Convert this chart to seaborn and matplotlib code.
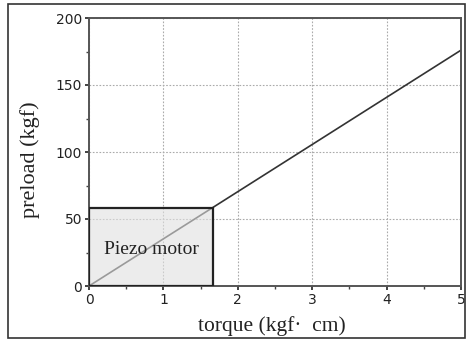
import matplotlib
matplotlib.use("Agg")
import matplotlib.pyplot as plt
import seaborn as sns
import pandas as pd
from matplotlib.patches import Rectangle
from matplotlib.ticker import MultipleLocator

torque = [0.0, 5.0]
preload = [0.0, 176.0]
piezo_torque = 1.67
piezo_preload = 58.0
piezo_label = "Piezo motor"
x_ticks = [0, 1, 2, 3, 4, 5]
y_ticks = [0, 50, 100, 150, 200]

sns.set_theme(style="white")
plt.rcParams["font.family"] = ["DejaVu Sans"]

df = pd.DataFrame({"torque": torque, "preload": preload})

fig = plt.figure(figsize=(4.68, 3.42), dpi=100)
ax = fig.add_axes([89/468, 1-286/342, (461-89)/468, (286-18)/342])

sns.lineplot(data=df, x="torque", y="preload", ax=ax, color="#333333", lw=1.2, zorder=2)
ax.add_patch(Rectangle((0, 0), piezo_torque, piezo_preload, facecolor="#e0e0e0", alpha=0.6,
                       edgecolor="none", zorder=3))
ax.add_patch(Rectangle((0, 0), piezo_torque, piezo_preload, facecolor="none",
                       edgecolor="#222222", lw=1.6, zorder=4))
ax.text(piezo_torque/2, piezo_preload/2 - 2, piezo_label, ha="center", va="center",
        family="Liberation Serif", fontsize=14, color="#222222", zorder=5)

ax.set_xlim(0, 5)
ax.set_ylim(0, 200)
ax.set_xticks(x_ticks)
ax.set_yticks(y_ticks)
ax.xaxis.set_minor_locator(MultipleLocator(0.5))
ax.yaxis.set_minor_locator(MultipleLocator(25))
ax.tick_params(axis="both", which="major", direction="out", length=3, width=1.2,
               labelsize=10, colors="#222222", pad=2, bottom=True, left=True)
ax.tick_params(axis="both", which="minor", direction="out", length=2, width=1,
               colors="#444444", bottom=True, left=True)
ax.grid(True, which="major", color="#aaaaaa", linestyle=(0, (1.5, 1.5)), lw=0.8)
for s in ax.spines.values():
    s.set_color("#555555")
    s.set_linewidth(1.4)
ax.set_xlabel("torque (kgf·  cm)", family="Liberation Serif", fontsize=15.5, color="#222222")
ax.set_ylabel("preload (kgf)", family="Liberation Serif", fontsize=16, color="#222222")
ax.xaxis.set_label_coords((272 - 89) / 372, -(316 - 286) / 268)
ax.yaxis.set_label_coords(-(89 - 40) / 372, (286 - 160) / 268)

fig.patches.append(Rectangle((8/468, 1-338/342), (465-8)/468, (338-4)/342, transform=fig.transFigure,
                             facecolor="none", edgecolor="#333333", lw=1.2))
fig.savefig("out.png", dpi=100)
